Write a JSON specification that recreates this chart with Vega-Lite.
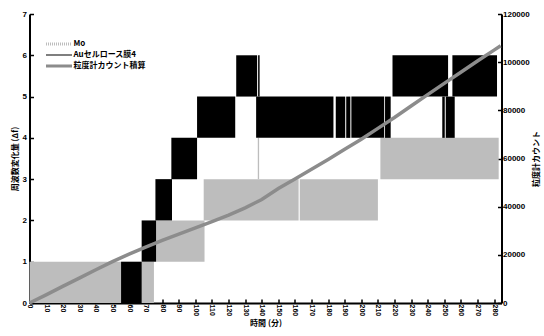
{
  "$schema": "https://vega.github.io/schema/vega-lite/v6.json",
  "width": 472,
  "height": 289,
  "autosize": {"type": "none"},
  "padding": {"left": 29.5, "top": 14, "right": 42.5, "bottom": 33},
  "background": "white",
  "config": {
    "view": {"stroke": null},
    "axis": {
      "grid": false,
      "domainColor": "black",
      "domainWidth": 2,
      "tickColor": "black",
      "tickWidth": 1.5,
      "tickSize": -4,
      "labelColor": "black",
      "labelFont": "Liberation Sans Narrow, Liberation Sans",
      "labelFontWeight": "bold",
      "labelFontSize": 8,
      "titleColor": "black",
      "titleFont": "Noto Sans CJK JP",
      "titleFontWeight": "bold",
      "titleFontSize": 8
    },
    "axisX": {
      "labelAngle": 90,
      "labelFontSize": 7,
      "labelPadding": 5,
      "labelFlush": false,
      "labelOverlap": false
    }
  },
  "datasets": {
    "bands": [
      {"series": "Mo", "start": 0, "end": 75, "lo": 0, "hi": 1},
      {"series": "Mo", "start": 76.3, "end": 105.5, "lo": 1, "hi": 2},
      {"series": "Mo", "start": 105, "end": 162.2, "lo": 2, "hi": 3},
      {"series": "Mo", "start": 162.9, "end": 210, "lo": 2, "hi": 3},
      {"series": "Mo", "start": 137.6, "end": 138.4, "lo": 3, "hi": 4},
      {"series": "Mo", "start": 211.5, "end": 282.8, "lo": 3, "hi": 4},
      {"series": "Auセルロース膜4", "start": 55.2, "end": 67.6, "lo": 0, "hi": 1},
      {"series": "Auセルロース膜4", "start": 67.6, "end": 76.3, "lo": 1, "hi": 2},
      {"series": "Auセルロース膜4", "start": 75.9, "end": 85.9, "lo": 2, "hi": 3},
      {"series": "Auセルロース膜4", "start": 85.5, "end": 101, "lo": 3, "hi": 4},
      {"series": "Auセルロース膜4", "start": 101, "end": 124, "lo": 4, "hi": 5},
      {"series": "Auセルロース膜4", "start": 124.6, "end": 137.2, "lo": 5, "hi": 6},
      {"series": "Auセルロース膜4", "start": 137.8, "end": 138.7, "lo": 5, "hi": 6},
      {"series": "Auセルロース膜4", "start": 136.6, "end": 183.2, "lo": 4, "hi": 5},
      {"series": "Auセルロース膜4", "start": 184.6, "end": 190.3, "lo": 4, "hi": 5},
      {"series": "Auセルロース膜4", "start": 190.9, "end": 193.4, "lo": 4, "hi": 5},
      {"series": "Auセルロース膜4", "start": 194, "end": 213.8, "lo": 4, "hi": 5},
      {"series": "Auセルロース膜4", "start": 214.3, "end": 217.7, "lo": 4, "hi": 5},
      {"series": "Auセルロース膜4", "start": 218.8, "end": 252.3, "lo": 5, "hi": 6},
      {"series": "Auセルロース膜4", "start": 254.9, "end": 281.8, "lo": 5, "hi": 6},
      {"series": "Auセルロース膜4", "start": 248.8, "end": 250.3, "lo": 4, "hi": 5},
      {"series": "Auセルロース膜4", "start": 250.9, "end": 256.3, "lo": 4, "hi": 5}
    ],
    "count": [
      {"t": 0, "count": 0},
      {"t": 10, "count": 3400},
      {"t": 20, "count": 6900},
      {"t": 30, "count": 10300},
      {"t": 40, "count": 13800},
      {"t": 50, "count": 17200},
      {"t": 60, "count": 20300},
      {"t": 70, "count": 23200},
      {"t": 80, "count": 26000},
      {"t": 90, "count": 28600},
      {"t": 100, "count": 31200},
      {"t": 110, "count": 33800},
      {"t": 120, "count": 36500},
      {"t": 130, "count": 39500},
      {"t": 140, "count": 43000},
      {"t": 150, "count": 47500},
      {"t": 160, "count": 51500},
      {"t": 170, "count": 55500},
      {"t": 180, "count": 59600},
      {"t": 190, "count": 63800},
      {"t": 200, "count": 68000},
      {"t": 210, "count": 72500},
      {"t": 220, "count": 77000},
      {"t": 230, "count": 81800},
      {"t": 240, "count": 86500},
      {"t": 250, "count": 91200},
      {"t": 260, "count": 95800},
      {"t": 270, "count": 100500},
      {"t": 280, "count": 105000},
      {"t": 284, "count": 106800}
    ]
  },
  "layer": [
    {
      "data": {"name": "bands"},
      "mark": {"type": "rect", "strokeWidth": 0},
      "encoding": {
        "x": {
          "field": "start",
          "type": "quantitative",
          "scale": {"domain": [0, 284.5], "nice": false, "zero": false},
          "axis": {
            "values": [0, 10, 20, 30, 40, 50, 60, 70, 80, 90, 100, 110, 120, 130, 140, 150, 160, 170, 180, 190, 200, 210, 220, 230, 240, 250, 260, 270, 280],
            "title": "時間 (分)",
            "titlePadding": 4
          }
        },
        "x2": {"field": "end"},
        "y": {
          "field": "lo",
          "type": "quantitative",
          "scale": {"domain": [0, 7], "nice": false},
          "axis": {
            "values": [0, 1, 2, 3, 4, 5, 6, 7],
            "labelPadding": 7,
            "labelFontSize": 8,
            "title": "周波数変化量 (Δf)",
            "titlePadding": 3
          }
        },
        "y2": {"field": "hi"},
        "color": {
          "field": "series",
          "type": "nominal",
          "scale": {
            "domain": ["Mo", "Auセルロース膜4", "粒度計カウント積算"],
            "range": ["#bdbdbd", "#000000", "#8c8c8c"]
          },
          "legend": {
            "title": null,
            "orient": "none",
            "legendX": 16,
            "legendY": 24.5,
            "padding": 0,
            "symbolType": "stroke",
            "symbolSize": 676,
            "symbolStrokeWidth": 3,
            "symbolOffset": 9.5,
            "clipHeight": 11,
            "rowPadding": 0,
            "labelOffset": 10.5,
            "labelFont": "Noto Sans CJK JP",
            "labelFontWeight": "bold",
            "labelFontSize": 8,
            "labelColor": "black",
            "encode": {
              "symbols": {
                "update": {
                  "fill": {"value": "transparent"},
                  "stroke": {"signal": "scale('color', datum.value)"},
                  "strokeWidth": {"signal": "isValid(datum) && datum.value === 'Auセルロース膜4' ? 1.2 : 3"},
                  "strokeDash": {"signal": "isValid(datum) && datum.value === 'Mo' ? [1, 1] : [1, 0]"}
                }
              }
            }
          }
        }
      }
    },
    {
      "data": {"name": "count"},
      "mark": {"type": "line", "strokeWidth": 3.5},
      "encoding": {
        "x": {
          "field": "t",
          "type": "quantitative",
          "axis": {
            "values": [0, 10, 20, 30, 40, 50, 60, 70, 80, 90, 100, 110, 120, 130, 140, 150, 160, 170, 180, 190, 200, 210, 220, 230, 240, 250, 260, 270, 280],
            "title": "時間 (分)",
            "titlePadding": 4
          }
        },
        "y": {
          "field": "count",
          "type": "quantitative",
          "scale": {"domain": [0, 120000], "nice": false},
          "axis": {
            "orient": "right",
            "values": [0, 20000, 40000, 60000, 80000, 100000, 120000],
            "format": "d",
            "labelPadding": 5,
            "labelFontSize": 8,
            "title": "粒度計カウント",
            "titleAngle": 270,
            "titlePadding": 11
          }
        },
        "color": {"datum": "粒度計カウント積算", "type": "nominal"}
      }
    }
  ],
  "resolve": {"scale": {"y": "independent"}}
}
